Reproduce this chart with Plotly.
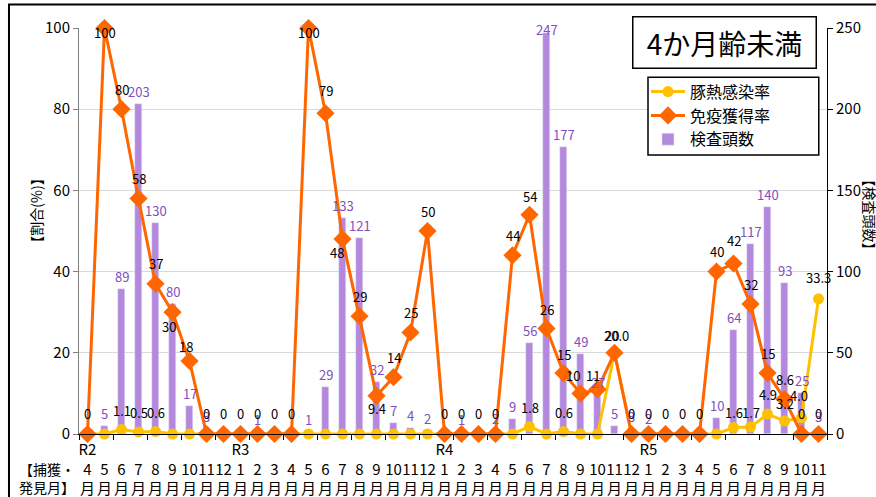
import plotly.graph_objects as go

# ---- data -------------------------------------------------------------
eras = ["R2", "R3", "R4", "R5"]
era_months = [
    [4, 5, 6, 7, 8, 9, 10, 11, 12],
    [1, 2, 3, 4, 5, 6, 7, 8, 9, 10, 11, 12],
    [1, 2, 3, 4, 5, 6, 7, 8, 9, 10, 11, 12],
    [1, 2, 3, 4, 5, 6, 7, 8, 9, 10, 11],
]

# 検査頭数 (head)
tests = [0, 5, 89, 203, 130, 80, 17, 3, 0,
         0, 1, 0, 0, 1, 29, 133, 121, 32, 7, 4, 2,
         0, 1, 0, 2, 9, 56, 247, 177, 49, 27, 5, 3,
         2, 0, 0, 0, 10, 64, 117, 140, 93, 25, 3]

# 免疫獲得率 (%)
immunity = [0, 100, 80, 58, 37, 30, 18, 0, 0,
            0, 0, 0, 0, 100, 79, 48, 29, 9.4, 14, 25, 50,
            0, 0, 0, 0, 44, 54, 26, 15, 10, 11, 20, 0,
            0, 0, 0, 0, 40, 42, 32, 15, 8.6, 0, 0]

# 豚熱感染率 (%)
infection = [0, 0, 1.1, 0.5, 0.6, 0, 0, 0, 0,
             0, 0, 0, 0, 0, 0, 0, 0, 0, 0, 0, 0,
             0, 0, 0, 0, 0, 1.8, 0, 0.6, 0, 0, 20, 0,
             0, 0, 0, 0, 0, 1.6, 1.7, 4.9, 3.2, 4.0, 33.3]

# ---- category axis ----------------------------------------------------
tick_text = []
for era, months in zip(eras, era_months):
    for j, m in enumerate(months):
        top = era if j == 0 else "\u00a0"
        tick_text.append(f"{top}<br>{m}<br>月")
xs = list(range(len(tick_text)))

FONT = "Noto Sans CJK JP"
ORANGE = "#FF6600"
YELLOW = "#FFC000"
BAR = "#B388DD"
BAR_TXT = "#7F4FC0"

# label offsets in pixels (dx, dy); dy > 0 moves the label upward
imm_off = {1: (0, -4), 13: (0, -4), 5: (-4, -14), 6: (-4, 14), 14: (0, 23),
           15: (-6, -13), 17: (0, -13), 26: (0, 18), 27: (0, 19), 28: (0, 19),
           29: (-8, 18), 30: (-5, 14), 31: (-3, 17), 38: (0, 23)}
inf_off = {31: (2, 17), 38: (0, 15), 39: (0, 15), 40: (0, 20), 41: (0, 18),
           42: (-3, 22), 43: (0, 21)}
bar_off = {27: 3.5, 30: 8}

fig = go.Figure()

fig.add_trace(go.Bar(
    x=xs, y=tests, yaxis="y", name="検査頭数", marker_color=BAR,
    width=0.38, legendrank=3,
))
fig.add_trace(go.Scatter(
    x=xs, y=infection, yaxis="y2", name="豚熱感染率", mode="lines+markers",
    line=dict(color=YELLOW, width=3), marker=dict(symbol="circle", size=11, color=YELLOW),
    cliponaxis=False, legendrank=1,
))
fig.add_trace(go.Scatter(
    x=xs, y=immunity, yaxis="y2", name="免疫獲得率", mode="lines+markers",
    line=dict(color=ORANGE, width=3), marker=dict(symbol="diamond", size=14, color=ORANGE),
    cliponaxis=False, legendrank=2,
))

annotations = []
# bar values
for i, v in enumerate(tests):
    if v:
        annotations.append(dict(
            x=i, y=v, xref="x", yref="y", text=str(v), showarrow=False,
            xanchor="center", yanchor="middle",
            yshift=bar_off.get(i, 12.5), font=dict(size=13, color=BAR_TXT, family=FONT),
        ))
# infection-rate values (non-zero only)
for i, v in enumerate(infection):
    if v:
        dx, dy = inf_off.get(i, (0, 19))
        annotations.append(dict(
            x=i, y=v, xref="x", yref="y2", text=f"{v:.1f}", showarrow=False,
            xanchor="center", yanchor="middle",
            xshift=dx, yshift=dy, font=dict(size=13, color="black", family=FONT),
        ))
# immunity-rate values
for i, v in enumerate(immunity):
    dx, dy = imm_off.get(i, (0, 20 if v else 21))
    annotations.append(dict(
        x=i, y=v, xref="x", yref="y2", text=f"{v:g}", showarrow=False,
        xanchor="center", yanchor="middle",
        xshift=dx, yshift=dy, font=dict(size=13, color="black", family=FONT),
    ))

# chart title box
annotations.append(dict(
    x=0.863, y=0.964, xref="paper", yref="paper", text="4か月齢未満",
    xanchor="center", yanchor="middle",
    showarrow=False, font=dict(size=28, color="black", family=FONT),
    bordercolor="black", borderwidth=1.5, borderpad=3, bgcolor="white",
    width=176, height=44,
))
# axis titles
annotations.append(dict(
    x=-0.0575, y=0.55, xref="paper", yref="paper", text="【割合(%)】",
    xanchor="center", yanchor="middle",
    textangle=-90, showarrow=False, font=dict(size=14, color="black", family=FONT),
))
annotations.append(dict(
    x=1.058, y=0.54, xref="paper", yref="paper", text="【検査頭数】",
    xanchor="center", yanchor="middle",
    textangle=90, showarrow=False, font=dict(size=14, color="black", family=FONT),
))
annotations.append(dict(
    x=-0.043, y=-0.108, xref="paper", yref="paper", text="【捕獲・<br>発見月】",
    xanchor="center", yanchor="middle",
    showarrow=False, align="left", font=dict(size=14, color="black", family=FONT),
))

fig.update_layout(
    width=876, height=497,
    margin=dict(l=79, r=49, t=28, b=63),
    paper_bgcolor="white", plot_bgcolor="white",
    font=dict(family=FONT, color="black"),
    showlegend=True,
    legend=dict(
        x=0.758, y=0.885, xanchor="left", yanchor="top",
        bgcolor="rgba(0,0,0,0)", borderwidth=0,
        font=dict(size=16, family=FONT), itemwidth=34,
    ),
    bargap=0,
    xaxis=dict(
        range=[-0.5, len(xs) - 0.5], tickmode="array", tickvals=xs, ticktext=tick_text,
        ticks="", showgrid=False, zeroline=False, showline=True, linecolor="black",
        linewidth=1, tickfont=dict(size=15), tickangle=0, automargin=False,
        ticklabelstandoff=2,
        minor=dict(tick0=-0.5, dtick=2, ticks="outside", ticklen=5,
                   tickcolor="black", showgrid=False),
    ),
    yaxis=dict(
        side="right", range=[0, 250], tickmode="array", tickvals=[0, 50, 100, 150, 200, 250],
        showgrid=True, gridcolor="#D9D9D9", gridwidth=1, zeroline=False, automargin=False,
        showline=True, linecolor="black", ticks="outside", ticklen=5, tickcolor="black",
        tickfont=dict(size=15),
    ),
    yaxis2=dict(
        overlaying="y", side="left", range=[0, 100], tickmode="array",
        tickvals=[0, 20, 40, 60, 80, 100], showgrid=False, zeroline=False, automargin=False,
        showline=True, linecolor="#808080", ticks="outside", ticklen=5,
        tickcolor="#808080", tickfont=dict(size=15),
    ),
    annotations=annotations,
    shapes=[
        # outer chart frame
        dict(type="rect", xref="paper", yref="paper",
             x0=-0.0936, x1=2.0, y0=-1.0, y1=1.058,
             line=dict(color="black", width=2), layer="above"),
        # legend box
        dict(type="rect", xref="paper", yref="paper",
             x0=0.7607, x1=0.989, y0=0.687, y1=0.879,
             line=dict(color="black", width=1.5), fillcolor="white", layer="above"),
    ],
)

fig.write_html("out.html")
